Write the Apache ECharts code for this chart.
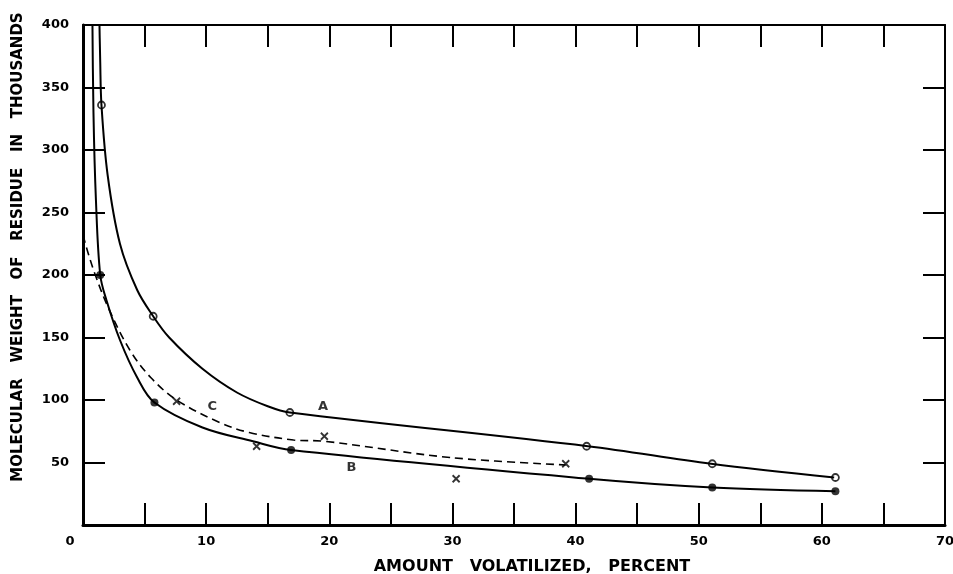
<!DOCTYPE html>
<html>
<head>
<meta charset="utf-8">
<script src="https://cdn.jsdelivr.net/npm/echarts@6/dist/echarts.min.js"></script>
<style>
  html, body { margin: 0; padding: 0; background: #fff; }
  #chart { width: 953px; height: 574px; }
</style>
</head>
<body>
<div id="chart"></div>
<script>
// 曲线 A (空心圆), B (实心点), C (虚线, 叉号)
var curveA = [[1.3, 420], [1.4, 370], [1.5, 336], [2.0, 280], [3.0, 225], [4.4, 188], [5.7, 167],
  [7.0, 150], [9.7, 125], [12.5, 106], [15.0, 95], [16.8, 90], [41, 63], [51, 49], [61, 38]];
var curveB = [[0.75, 420], [0.85, 330], [1.05, 260], [1.4, 200], [1.9, 180], [3.0, 148], [4.4, 118],
  [5.8, 98], [9.7, 78], [13.8, 67], [16.9, 60], [41.1, 37], [51.1, 30], [61.1, 27]];
var curveC = [[0, 232], [0.4, 218], [1.0, 200], [2.0, 175], [3.8, 140], [5.5, 118], [7.6, 100],
  [11.1, 82], [13.5, 74], [17.1, 68], [19.6, 67], [29.8, 54], [39.2, 48]];

var pointsA = [[1.5, 336], [5.7, 167], [16.8, 90], [40.9, 63], [51.1, 49], [61.1, 38]];
var pointsB = [[1.4, 200], [5.8, 98], [16.9, 60], [41.1, 37], [51.1, 30], [61.1, 27]];
var pointsC = [[7.6, 99], [14.1, 63], [19.6, 71], [30.3, 37], [39.2, 49]];

var curveLabels = [['A', 19.5, 95], ['B', 21.8, 46], ['C', 10.5, 95]];

var font = 'DejaVu Sans';
var chart = echarts.init(document.getElementById('chart'));

var lineBase = { type: 'line', smooth: 0.35, showSymbol: false, silent: true };
var tickStyle = { inside: true, length: 22, lineStyle: { color: '#000', width: 2 } };

var option = {
  animation: false,
  backgroundColor: '#fff',
  grid: { left: 83, right: 8, top: 25, bottom: 49, outerBoundsMode: 'none' },
  xAxis: [{
    type: 'value', min: 0, max: 70, interval: 5, position: 'bottom',
    name: 'AMOUNT   VOLATILIZED,   PERCENT', nameLocation: 'middle', nameGap: 34,
    nameTextStyle: { color: '#000', fontFamily: font, fontWeight: 'bold', fontSize: 16, padding: [0, 0, 0, 36] },
    axisLine: { onZero: false, lineStyle: { color: '#000', width: 3 } },
    axisTick: tickStyle,
    splitLine: { show: false },
    axisLabel: {
      color: '#000', fontFamily: font, fontWeight: 'bold', fontSize: 13, margin: 10,
      formatter: function (v) {
        if (v === 0) return '{z|0}';
        return v % 10 === 0 ? String(v) : '';
      },
      rich: { z: { fontFamily: font, fontWeight: 'bold', fontSize: 13, color: '#000', padding: [0, 26, 0, 0] } }
    }
  }, {
    type: 'value', min: 0, max: 70, interval: 5, position: 'top',
    axisLine: { onZero: false, lineStyle: { color: '#000', width: 2 } },
    axisTick: tickStyle,
    axisLabel: { show: false }, splitLine: { show: false }
  }],
  yAxis: [{
    type: 'value', min: 0, max: 400, interval: 50, position: 'left',
    name: 'MOLECULAR   WEIGHT   OF   RESIDUE   IN   THOUSANDS', nameLocation: 'middle', nameGap: 57,
    nameTextStyle: { color: '#000', fontFamily: font, fontWeight: 'bold', fontSize: 15, padding: [0, 0, 0, 56] },
    axisLine: { onZero: false, lineStyle: { color: '#000', width: 3 } },
    axisTick: tickStyle,
    splitLine: { show: false },
    axisLabel: {
      color: '#000', fontFamily: font, fontWeight: 'bold', fontSize: 13, margin: 14,
      formatter: function (v) { return v === 0 ? '' : String(v); }
    }
  }, {
    type: 'value', min: 0, max: 400, interval: 50, position: 'right',
    axisLine: { onZero: false, lineStyle: { color: '#000', width: 2 } },
    axisTick: tickStyle,
    axisLabel: { show: false }, splitLine: { show: false }
  }],
  series: [
    Object.assign({}, lineBase, { name: 'A', data: curveA, lineStyle: { color: '#000', width: 2 } }),
    Object.assign({}, lineBase, { name: 'B', data: curveB, lineStyle: { color: '#000', width: 2 } }),
    Object.assign({}, lineBase, { name: 'C', data: curveC, lineStyle: { color: '#000', width: 1.6, type: [8, 5] } }),
    {
      type: 'scatter', data: pointsA, symbol: 'circle', symbolSize: 7, silent: true,
      itemStyle: { color: '#fff', borderColor: '#000', borderWidth: 1.8 }
    },
    {
      type: 'scatter', data: pointsB, symbol: 'circle', symbolSize: 8, silent: true,
      itemStyle: { color: '#000' }
    },
    {
      type: 'scatter', data: pointsC, silent: true, symbolSize: 7,
      symbol: 'path://M0,0 L10,10 M10,0 L0,10',
      itemStyle: { color: 'none', borderColor: '#000', borderWidth: 1.8 }
    },
    {
      type: 'scatter', symbolSize: 0, silent: true,
      data: curveLabels.map(function (d) { return { name: d[0], value: [d[1], d[2]] }; }),
      label: {
        show: true, position: 'inside', formatter: '{b}',
        color: '#000', fontFamily: font, fontWeight: 'bold', fontSize: 13
      }
    }
  ]
};

chart.setOption(option);
</script>
</body>
</html>
